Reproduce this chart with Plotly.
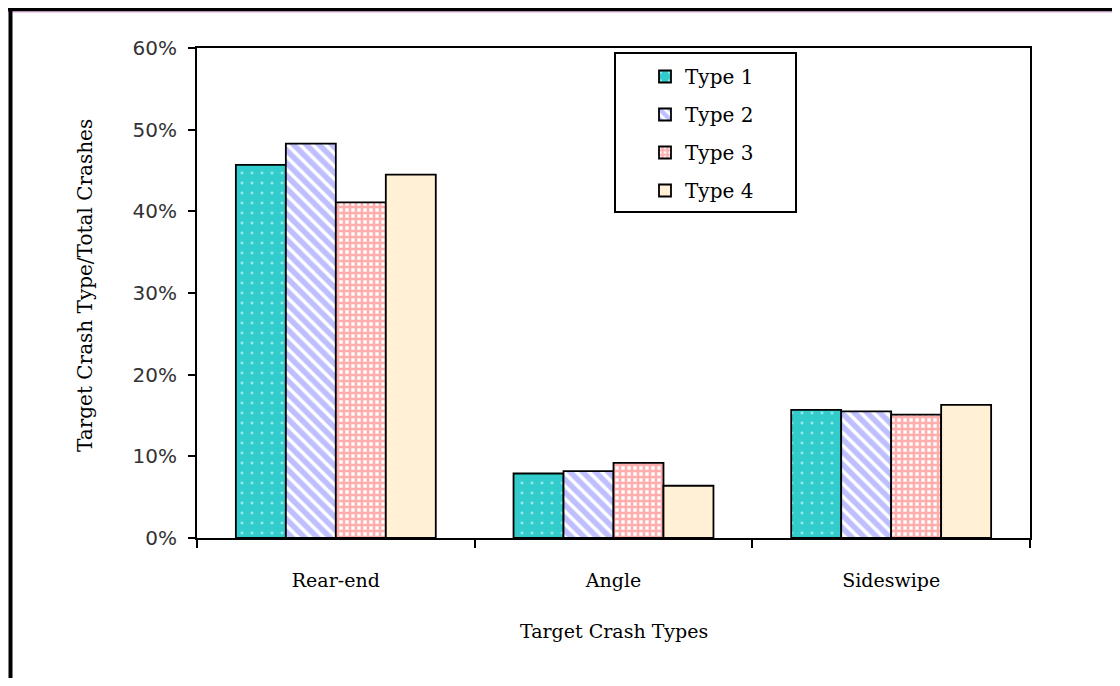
import plotly.graph_objects as go

categories = ["Rear-end", "Angle", "Sideswipe"]
series_names = ["Type 1", "Type 2", "Type 3", "Type 4"]
type1 = [0.457, 0.079, 0.157]
type2 = [0.483, 0.082, 0.155]
type3 = [0.411, 0.092, 0.151]
type4 = [0.445, 0.064, 0.163]
y_ticks = [0, 0.1, 0.2, 0.3, 0.4, 0.5, 0.6]
y_tick_labels = ["0%", "10%", "20%", "30%", "40%", "50%", "60%"]

# page body has an 8px margin; figure coordinates = window coordinates - 8
OFF = 8
W, H = 1104, 670
L, T = 197 - OFF, 48 - OFF
PW, PH = 833, 490
R = W - L - PW
B = H - T - PH


def px_x(wx):
    return (wx - OFF - L) / PW


def px_y(wy):
    return (H - B - (wy - OFF)) / PH


serif = "DejaVu Serif"
styles = [
    dict(shape=".", bgcolor="#33CCCC", fgcolor="#FFFFFF", size=10, solidity=0.07),
    dict(shape="\\", bgcolor="#FFFFFF", fgcolor="#8080FF", size=9, solidity=0.62),
    dict(shape="+", bgcolor="#FFFFFF", fgcolor="#FF5C5C", size=6, solidity=0.68),
    dict(shape="", bgcolor="#FFF0D6", fgcolor="#FFF0D6", size=8, solidity=0.2),
]
fills = ["#33CCCC", "#FFFFFF", "#FFFFFF", "#FFF0D6"]

fig = go.Figure()
for i, (name, vals, st, fc) in enumerate(zip(series_names, [type1, type2, type3, type4], styles, fills)):
    fig.add_trace(go.Bar(
        name=name, x=categories, y=vals, legendgroup="g%d" % i,
        marker=dict(color=fc, line=dict(color="#000000", width=1.8), pattern=st),
    ))

fig.update_layout(
    width=W, height=H,
    margin=dict(l=L, r=R, t=T, b=B),
    paper_bgcolor="#FFFFFF", plot_bgcolor="#FFFFFF",
    barmode="group", bargap=0.28, bargroupgap=0,
    showlegend=True,
    legend=dict(
        x=px_x(645), y=px_y(57), xanchor="left", yanchor="top",
        borderwidth=0, bgcolor="rgba(0,0,0,0)",
        font=dict(family=serif, size=20, color="#000000"),
        tracegroupgap=9,
    ),
    xaxis=dict(
        showline=True, linecolor="#000000", linewidth=2, mirror=True,
        ticks="outside", tickson="boundaries", ticklen=8, tickcolor="#000000", tickwidth=2,
        tickfont=dict(family=serif, size=19, color="#000000"),
        ticklabelstandoff=24,
        showgrid=False,
    ),
    yaxis=dict(
        range=[0, 0.6], tickvals=y_ticks, ticktext=y_tick_labels,
        showline=True, linecolor="#000000", linewidth=2, mirror=True,
        ticks="outside", ticklen=7, tickcolor="#000000", tickwidth=2,
        tickfont=dict(family="DejaVu Sans", size=20, color="#333333"),
        ticklabelstandoff=7,
        showgrid=False, zeroline=False,
    ),
    annotations=[
        dict(text="Target Crash Types", xref="paper", yref="paper",
             x=0.5, y=px_y(631), xanchor="center", yanchor="middle",
             showarrow=False, font=dict(family=serif, size=19, color="#000000")),
        dict(text="Target Crash Type/Total Crashes", xref="paper", yref="paper",
             x=px_x(85), y=px_y(286), xanchor="center", yanchor="middle", textangle=-90,
             showarrow=False, font=dict(family=serif, size=20, color="#000000")),
    ],
    shapes=[
        dict(type="rect", xref="paper", yref="paper", x0=px_x(615), x1=px_x(796),
             y0=px_y(53), y1=px_y(212), line=dict(color="#000000", width=2),
             fillcolor="rgba(0,0,0,0)", layer="above"),
        dict(type="line", xref="paper", yref="paper", x0=px_x(0), x1=px_x(1130),
             y0=px_y(9.5), y1=px_y(9.5), line=dict(color="#000000", width=4)),
        dict(type="line", xref="paper", yref="paper", x0=px_x(0), x1=px_x(1130),
             y0=px_y(12), y1=px_y(12), line=dict(color="#E0A8E0", width=1)),
        dict(type="line", xref="paper", yref="paper", x0=px_x(10.5), x1=px_x(10.5),
             y0=px_y(8), y1=px_y(700), line=dict(color="#000000", width=4)),
    ],
)

fig.write_html("out.html")
